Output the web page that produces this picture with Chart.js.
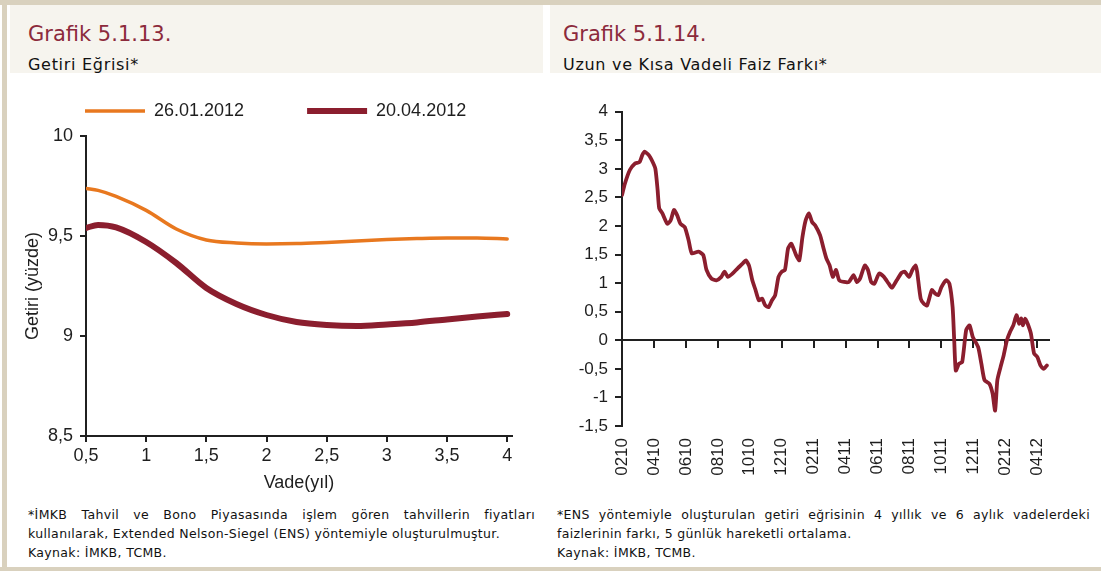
<!DOCTYPE html>
<html><head><meta charset="utf-8">
<script src="https://cdn.jsdelivr.net/npm/chart.js@4.4.1/dist/chart.umd.min.js"></script>
<style>
html,body{margin:0;padding:0;background:#fff;}
body{width:1101px;height:571px;position:relative;overflow:hidden;font-family:"DejaVu Sans",sans-serif;}
.fr{position:absolute;background:#d9d1be;}
.hdr{position:absolute;top:5px;height:68px;background:#f6f4ee;}
.ttl{position:absolute;top:17px;font-size:21px;line-height:24px;color:#8c2a3c;white-space:nowrap;}
.sub{position:absolute;top:51px;font-size:16px;line-height:18px;letter-spacing:0.7px;color:#111;white-space:nowrap;}
.note{position:absolute;top:505px;font-size:12.5px;line-height:19px;letter-spacing:0.35px;color:#111;}
.note p{margin:0;text-align:justify;}
canvas{position:absolute;}
</style></head>
<body>
<div class="fr" style="left:0;top:0;width:1101px;height:5px;"></div>
<div class="fr" style="left:2px;top:0;width:5px;height:571px;"></div>
<div class="fr" style="left:0;top:567px;width:1101px;height:4px;"></div>

<div class="hdr" style="left:10px;width:533px;">
  <div class="ttl" style="left:18px;">Grafik 5.1.13.</div>
  <div class="sub" style="left:18px;">Getiri Eğrisi*</div>
</div>
<div class="hdr" style="left:550px;width:551px;">
  <div class="ttl" style="left:13px;">Grafik 5.1.14.</div>
  <div class="sub" style="left:13px;">Uzun ve Kısa Vadeli Faiz Farkı*</div>
</div>

<canvas id="c1" width="520" height="457" style="left:22px;top:39px;"></canvas>
<canvas id="c2" width="510" height="401" style="left:560px;top:85px;"></canvas>

<div class="note" style="left:28px;width:507px;">
  <p style="text-align-last:left;">*İMKB Tahvil ve Bono Piyasasında işlem gören tahvillerin fiyatları kullanılarak, Extended Nelson-Siegel (ENS) yöntemiyle oluşturulmuştur.</p>
  <p>Kaynak: İMKB, TCMB.</p>
</div>
<div class="note" style="left:557px;width:533px;">
  <p style="text-align-last:left;">*ENS yöntemiyle oluşturulan getiri eğrisinin 4 yıllık ve 6 aylık vadelerdeki faizlerinin farkı, 5 günlük hareketli ortalama.</p>
  <p>Kaynak: İMKB, TCMB.</p>
</div>

<script>
// ---- Grafik 5.1.13 data ----
const maturities = [0.5, 0.6, 0.75, 1, 1.25, 1.5, 1.75, 2, 2.25, 2.5, 2.75, 3, 3.25, 3.5, 3.75, 4];
const curveJan = [9.738, 9.728, 9.698, 9.628, 9.535, 9.48, 9.465, 9.46, 9.462, 9.468, 9.475, 9.482, 9.487, 9.49, 9.49, 9.485];
const curveApr = [9.54, 9.555, 9.543, 9.47, 9.365, 9.24, 9.16, 9.105, 9.07, 9.055, 9.05, 9.058, 9.068, 9.083, 9.097, 9.11];
const seriesNames = ['26.01.2012', '20.04.2012'];
const maturityTicks = [0.5, 1, 1.5, 2, 2.5, 3, 3.5, 4];
const yieldTicks = [8.5, 9, 9.5, 10];

// ---- Grafik 5.1.14 data (x = months since Feb 2010) ----
const spreadMonth = [0, 0.18, 0.49, 0.8, 1.1, 1.27, 1.41, 1.68, 1.92, 2.09, 2.23, 2.33, 2.53, 2.84, 3.05, 3.25, 3.45, 3.66, 3.93, 4.17, 4.37, 4.79, 5.09, 5.29, 5.6, 5.91, 6.22, 6.42, 6.63, 6.93, 7.24, 7.55, 7.75, 7.96, 8.16, 8.36, 8.57, 8.77, 8.97, 9.18, 9.39, 9.59, 9.8, 10.0, 10.2, 10.4, 10.6, 10.9, 11.1, 11.3, 11.5, 11.7, 11.9, 12.1, 12.4, 12.6, 12.8, 13.0, 13.2, 13.4, 13.6, 13.9, 14.2, 14.5, 14.7, 14.9, 15.2, 15.4, 15.6, 15.8, 16.1, 16.4, 16.7, 16.9, 17.2, 17.5, 17.7, 17.98, 18.18, 18.39, 18.48, 18.7, 18.9, 19.1, 19.4, 19.6, 19.8, 20.0, 20.3, 20.5, 20.7, 20.8, 20.9, 21.1, 21.3, 21.55, 21.76, 21.96, 22.3, 22.5, 22.7, 23.0, 23.2, 23.36, 23.5, 23.7, 23.9, 24.1, 24.3, 24.5, 24.7, 24.86, 25.0, 25.1, 25.25, 25.4, 25.6, 25.8, 26.0, 26.2, 26.4, 26.6];
const spreadValue = [2.54, 2.74, 2.98, 3.09, 3.12, 3.24, 3.30, 3.24, 3.12, 3.0, 2.63, 2.31, 2.22, 2.04, 2.10, 2.28, 2.19, 2.04, 1.98, 1.75, 1.52, 1.55, 1.49, 1.23, 1.08, 1.05, 1.11, 1.20, 1.11, 1.17, 1.26, 1.34, 1.40, 1.30, 1.05, 0.88, 0.70, 0.73, 0.61, 0.58, 0.70, 0.79, 1.11, 1.20, 1.23, 1.61, 1.69, 1.49, 1.40, 1.81, 2.10, 2.22, 2.07, 2.01, 1.84, 1.63, 1.43, 1.31, 1.11, 1.23, 1.05, 1.02, 1.02, 1.14, 1.02, 1.08, 1.31, 1.23, 1.02, 0.99, 1.17, 1.11, 0.99, 0.92, 1.05, 1.18, 1.20, 1.11, 1.23, 1.31, 1.20, 0.73, 0.64, 0.61, 0.88, 0.82, 0.79, 0.93, 1.05, 0.99, 0.58, 0.0, -0.53, -0.41, -0.38, 0.18, 0.26, 0.06, -0.12, -0.41, -0.70, -0.76, -0.93, -1.23, -0.70, -0.47, -0.26, 0.0, 0.15, 0.26, 0.44, 0.29, 0.38, 0.26, 0.38, 0.29, 0.12, -0.23, -0.29, -0.44, -0.50, -0.44];
const monthTickValues = [0, 2, 4, 6, 8, 10, 12, 14, 16, 18, 20, 22, 24, 26];
const monthTickLabels = ['0210', '0410', '0610', '0810', '1010', '1210', '0211', '0411', '0611', '0811', '1011', '1211', '0212', '0412'];
const spreadTicks = [-1.5, -1, -0.5, 0, 0.5, 1, 1.5, 2, 2.5, 3, 3.5, 4];

const comma = v => String(v).replace('.', ',');
const FONT = 'Liberation Sans';
const TXT = '#1e1e1e';
const AX = '#202020';

// ---- Chart 1 ----
new Chart(document.getElementById('c1'), {
  type: 'line',
  data: {
    datasets: [
      { label: seriesNames[0], data: maturities.map((m, i) => ({x: m, y: curveJan[i]})),
        borderColor: '#e8781f', backgroundColor: '#e8781f', borderWidth: 3.5,
        pointRadius: 0, cubicInterpolationMode: 'monotone', borderCapStyle: 'round' },
      { label: seriesNames[1], data: maturities.map((m, i) => ({x: m, y: curveApr[i]})),
        borderColor: '#8b1e2e', backgroundColor: '#8b1e2e', borderWidth: 6,
        pointRadius: 0, cubicInterpolationMode: 'monotone', borderCapStyle: 'round' }
    ]
  },
  options: {
    responsive: false, animation: false,
    layout: { padding: 0 },
    plugins: {
      tooltip: { enabled: false },
      legend: { display: true, position: 'top', align: 'start',
        labels: { usePointStyle: true, pointStyle: 'line', pointStyleWidth: 60, padding: 63,
                  color: TXT, font: { family: FONT, size: 18 } } },
      subtitle: { display: true, text: '', weight: 500, padding: 0, font: { size: 5 } }
    },
    scales: {
      x: { type: 'linear', min: 0.5, max: 4.04,
        afterBuildTicks: s => { s.ticks = maturityTicks.map(v => ({value: v})); },
        afterFit: s => { s.height = 60; s.paddingRight = 30; },
        ticks: { callback: v => comma(v), color: TXT, font: { family: FONT, size: 18 }, padding: 3, maxRotation: 0 },
        grid: { display: true, drawOnChartArea: false, drawTicks: true, tickLength: 6, color: AX, lineWidth: 2 },
        border: { display: true, color: AX, width: 2 },
        title: { display: true, text: 'Vade(yıl)', color: TXT, font: { family: FONT, size: 18 }, padding: { top: 0, bottom: 2 } }
      },
      y: { type: 'linear', min: 8.5, max: 10,
        afterBuildTicks: s => { s.ticks = yieldTicks.map(v => ({value: v})); },
        afterFit: s => { s.width = 64; },
        ticks: { callback: v => comma(v), color: TXT, font: { family: FONT, size: 18 }, padding: 7 },
        grid: { display: true, drawOnChartArea: false, drawTicks: true, tickLength: 6, color: AX, lineWidth: 2 },
        border: { display: true, color: AX, width: 2 },
        title: { display: true, text: 'Getiri (yüzde)', color: TXT, font: { family: FONT, size: 18 }, padding: { top: 0, bottom: 0 } }
      }
    }
  }
});

// ---- Chart 2 ----
new Chart(document.getElementById('c2'), {
  type: 'line',
  data: {
    datasets: [
      { label: 'Faiz Farkı', data: spreadMonth.map((m, i) => ({x: m, y: spreadValue[i]})),
        borderColor: '#8b1e2e', borderWidth: 3.8, pointRadius: 0, tension: 0.2,
        borderJoinStyle: 'round', borderCapStyle: 'round' }
    ]
  },
  options: {
    responsive: false, animation: false,
    layout: { padding: { top: 26.7, right: 12, left: 0, bottom: 0 } },
    plugins: { legend: { display: false }, tooltip: { enabled: false } },
    scales: {
      x: { type: 'linear', min: 0, max: 26.74, position: { y: 0 },
        afterBuildTicks: s => { s.ticks = monthTickValues.map(v => ({value: v})); },
        ticks: { display: false },
        grid: { display: true, drawOnChartArea: false, drawTicks: true, tickLength: 7, color: AX, lineWidth: 2 },
        border: { display: true, color: AX, width: 2 }
      },
      x2: { type: 'linear', axis: 'x', position: 'bottom', min: 0, max: 26.74,
        afterBuildTicks: s => { s.ticks = monthTickValues.map(v => ({value: v})); },
        afterFit: s => { s.height = 60; },
        ticks: { callback: v => monthTickLabels[monthTickValues.indexOf(v)], color: TXT,
                 font: { family: FONT, size: 17 }, padding: 12, minRotation: 90, maxRotation: 90, autoSkip: false },
        grid: { display: false, drawTicks: false },
        border: { display: false }
      },
      y: { type: 'linear', min: -1.5, max: 4,
        afterBuildTicks: s => { s.ticks = spreadTicks.map(v => ({value: v})); },
        afterFit: s => { s.width = 62; },
        ticks: { callback: v => comma(v), color: TXT, font: { family: FONT, size: 17 }, padding: 7 },
        grid: { display: true, drawOnChartArea: false, drawTicks: true, tickLength: 7, color: AX, lineWidth: 2 },
        border: { display: true, color: AX, width: 2 }
      }
    }
  }
});
</script>
</body></html>
